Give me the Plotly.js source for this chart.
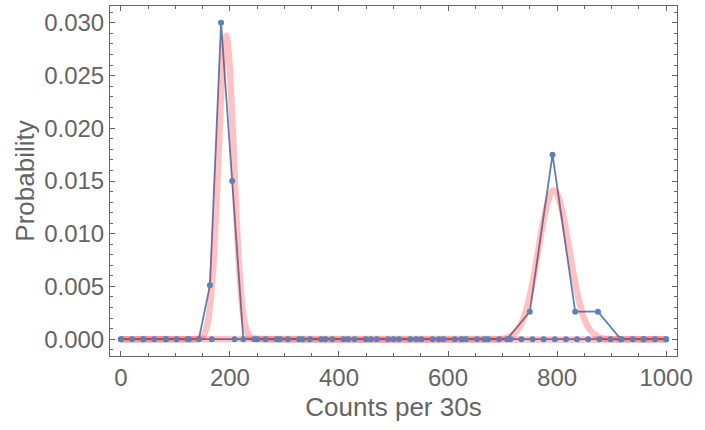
<!DOCTYPE html>
<html>
<head>
<meta charset="utf-8">
<script src="https://cdn.plot.ly/plotly-3.0.1.min.js"></script>
<style>
  html, body { margin: 0; padding: 0; background: #fff; }
  #plotlyFig { width: 705px; height: 430px; }
</style>
</head>
<body>
<div id="plotlyFig"></div>
<script>
// fine bins (50 bins across 0..1000)
const fineX = [0, 20.4, 40.8, 61.2, 81.6, 102, 122.4, 142.9, 163.3, 183.7,
    204.1, 224.5, 244.9, 265.3, 285.7, 306.1, 326.5, 346.9, 367.3, 387.8,
    408.2, 428.6, 449, 469.4, 489.8, 510.2, 530.6, 551, 571.4, 591.8,
    612.2, 632.7, 653.1, 673.5, 693.9, 714.3, 734.7, 755.1, 775.5, 795.9,
    816.3, 836.7, 857.1, 877.6, 898, 918.4, 938.8, 959.2, 979.6, 1000];
const fineY = [0, 0, 0, 0, 0, 0, 0, 0, 0.0051, 0.0300,
    0.0150, 0, 0, 0, 0, 0, 0, 0, 0, 0,
    0, 0, 0, 0, 0, 0, 0, 0, 0, 0,
    0, 0, 0, 0, 0, 0, 0, 0, 0, 0,
    0, 0, 0, 0, 0, 0, 0, 0, 0, 0];

// coarse bins (25 bins across 0..1000)
const coarseX = [0, 41.7, 83.3, 125, 166.7, 208.3, 250, 291.7, 333.3, 375,
    416.7, 458.3, 500, 541.7, 583.3, 625, 666.7, 708.3, 750, 791.7,
    833.3, 875, 916.7, 958.3, 1000];
const coarseY = [0, 0, 0, 0, 0, 0, 0, 0, 0, 0,
    0, 0, 0, 0, 0, 0, 0, 0, 0.0026, 0.0175,
    0.0026, 0.0026, 0, 0, 0];

// fitted curves
const fitLowX = [0, 140, 145, 150, 155, 160, 165, 170, 175, 180, 185, 190, 193,
    195, 200, 205, 210, 215, 220, 225, 230, 235, 240, 245, 1000];
const fitLowY = [0, 0.00002, 0.00008, 0.00026, 0.00073, 0.0018, 0.0039, 0.0075,
    0.0126, 0.0187, 0.0245, 0.0281, 0.0288, 0.0285, 0.0254, 0.0200, 0.0138,
    0.0084, 0.0045, 0.0021, 0.0009, 0.0003, 0.0001, 0.00003, 0];
const fitHighX = [0, 690, 700, 710, 720, 730, 740, 750, 760, 770, 780, 790, 795,
    800, 810, 820, 830, 840, 850, 860, 870, 880, 890, 900, 1000];
const fitHighY = [0, 0.00001, 0.00005, 0.00016, 0.00043, 0.0010, 0.0022, 0.0041,
    0.0067, 0.0098, 0.0124, 0.0140, 0.0141, 0.0138, 0.0120, 0.0092, 0.0062,
    0.0037, 0.0019, 0.0009, 0.0004, 0.0001, 0.00004, 0.00001, 0];

const blue = '#5e81b5';
const pink = 'rgba(255, 0, 0, 0.24)';
const frame = '#666666';
const textGray = '#646464';
const fontFamily = '"Liberation Sans", Arial, sans-serif';

function lineTrace(x, y) {
    return {
        x: x, y: y,
        type: 'scatter',
        mode: 'lines',
        line: { color: blue, width: 1.8 },
        hoverinfo: 'skip',
    };
}
function fitTrace(x, y) {
    return {
        x: x, y: y,
        type: 'scatter',
        mode: 'lines',
        line: { color: pink, width: 6.5, shape: 'spline', smoothing: 0.6 },
        hoverinfo: 'skip',
    };
}
function markerTrace(x, y) {
    return {
        x: x, y: y,
        type: 'scatter',
        mode: 'markers',
        marker: { color: blue, size: 6 },
        hoverinfo: 'skip',
    };
}

const axisCommon = {
    showgrid: false,
    zeroline: false,
    showline: true,
    linecolor: frame,
    linewidth: 1,
    mirror: 'ticks',
    ticks: 'inside',
    ticklen: 5,
    tickwidth: 1,
    tickcolor: frame,
    tickfont: { family: fontFamily, size: 24, color: textGray },
};

const layout = {
    width: 705,
    height: 430,
    margin: { l: 110, r: 28, t: 6, b: 74 },
    paper_bgcolor: '#ffffff',
    plot_bgcolor: '#ffffff',
    showlegend: false,
    xaxis: Object.assign({}, axisCommon, {
        range: [-20, 1020],
        tick0: 0,
        dtick: 200,
        minor: { dtick: 50, ticklen: 3, tickcolor: frame, ticks: 'inside' },
        title: {
            text: 'Counts per 30s',
            font: { family: fontFamily, size: 26, color: textGray },
            standoff: 8,
        },
    }),
    yaxis: Object.assign({}, axisCommon, {
        range: [-0.0016, 0.0316],
        tick0: 0,
        dtick: 0.005,
        tickformat: '.3f',
        minor: { dtick: 0.001, ticklen: 3, tickcolor: frame, ticks: 'inside' },
        title: {
            text: 'Probability',
            font: { family: fontFamily, size: 26, color: textGray },
            standoff: 2,
        },
    }),
};

const data = [
    lineTrace(fineX, fineY),
    lineTrace(coarseX, coarseY),
    fitTrace(fitLowX, fitLowY),
    fitTrace(fitHighX, fitHighY),
    markerTrace(fineX, fineY),
    markerTrace(coarseX, coarseY),
];

Plotly.newPlot('plotlyFig', data, layout, { staticPlot: true, displayModeBar: false });
</script>
</body>
</html>
